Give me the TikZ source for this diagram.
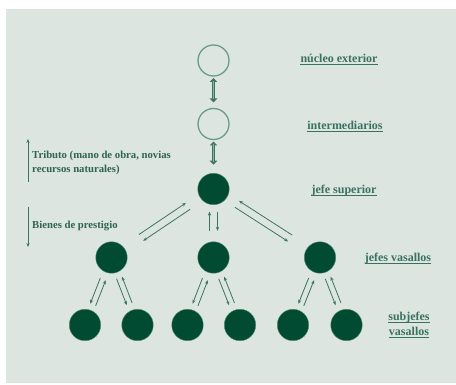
\documentclass[tikz,border=0pt]{standalone}
\usepackage{fontspec}
\setmainfont{Liberation Serif}
\usetikzlibrary{calc,arrows.meta}
\definecolor{bgc}{HTML}{DDE5E0}
\definecolor{darkg}{HTML}{004B32}
\definecolor{openc}{HTML}{6A9C8A}
\definecolor{labc}{HTML}{3A7262}
\definecolor{leftc}{HTML}{2F6450}
\definecolor{arrc}{HTML}{3D7462}
\definecolor{innerc}{HTML}{86B3A3}
\tikzset{
  dot/.style={circle,fill=darkg,draw=darkg!60!bgc,line width=0.4pt,minimum size=31.5pt,inner sep=0pt,outer sep=0pt},
  opendot/.style={circle,draw=openc,fill=bgc,line width=1.3pt,minimum size=31pt,inner sep=0pt,outer sep=0pt},
  lab/.style={text=labc,font=\bfseries\fontsize{12}{13}\selectfont,anchor=base,inner sep=0pt},
  ul/.style={draw=labc,line width=0.9pt},
  lefttxt/.style={text=leftc,font=\bfseries\fontsize{10.7}{14}\selectfont,anchor=base west,inner sep=0pt},
  arr/.style={draw=arrc,line width=0.8pt,-{Stealth[length=4pt,width=3.2pt]}},
  thickarr/.style={draw=arrc,line width=3pt,{Triangle[length=4pt,width=7.5pt]}-{Triangle[length=4pt,width=7.5pt]}},
  thickin/.style={draw=innerc,line width=0.7pt}
}
\newcommand\apair[7]{%
  \draw[arr] ($(#1)!#6!(#2)!#7!#3:(#2)$) -- ($(#1)!#5!(#2)!#7!#3:(#2)$);
  \draw[arr] ($(#1)!#5!(#2)!#7!#4:(#2)$) -- ($(#1)!#6!(#2)!#7!#4:(#2)$);
}
\newcommand\uline[1]{\draw[ul] ([yshift=-1.6pt]#1.base west) -- ([yshift=-1.6pt]#1.base east);}
\begin{document}
\begin{tikzpicture}[x=1pt,y=-1pt]
\useasboundingbox (0,0) rectangle (456,385);
\fill[white] (0,0) rectangle (456,385);
\fill[bgc] (6,9) rectangle (456,383);
% circles
\node[opendot] (nuc) at (213.5,60.5) {};
\node[opendot] (int) at (213.5,124) {};
\node[dot] (sup) at (213.5,189) {};
\node[dot] (v1) at (111.5,257.5) {};
\node[dot] (v2) at (213.5,257.5) {};
\node[dot] (v3) at (320,257.5) {};
\node[dot] (s1) at (85,325) {};
\node[dot] (s2) at (137.5,325) {};
\node[dot] (s3) at (187.5,325) {};
\node[dot] (s4) at (240,325) {};
\node[dot] (s5) at (293,325) {};
\node[dot] (s6) at (346.5,325) {};
% thick double arrows
\draw[thickarr,shorten <=2pt,shorten >=6pt] (nuc.south) -- (int.north);
\draw[thickin,shorten <=5pt,shorten >=9pt] (nuc.south) -- (int.north);
\draw[thickarr,shorten <=2pt,shorten >=8.5pt] (int.south) -- (sup.north);
\draw[thickin,shorten <=5pt,shorten >=11.5pt] (int.south) -- (sup.north);
% labels
\node[lab] (l1) at (339,63) {núcleo exterior};
\node[lab] (l2) at (345,130) {intermediarios};
\node[lab] (l3) at (344,194) {jefe superior};
\node[lab] (l4) at (398,262) {jefes vasallos};
\node[lab] (l5) at (409,321) {subjefes};
\node[lab] (l6) at (409,336) {vasallos};
\uline{l1}\uline{l2}\uline{l3}\uline{l4}\uline{l5}\uline{l6}
% left legend
\node[lefttxt] (t1) at (32,159) {Tributo (mano de obra, novias};
\node[lefttxt] (t2) at (32,173) {recursos naturales)};
\node[lefttxt] (t3) at (32,229) {Bienes de prestigio};
\coordinate (ua) at (28,182);
\coordinate (ub) at (28,139);
\coordinate (da) at (28,207);
\coordinate (db) at (28,247);
\draw[arr] (ua) -- (ub);
\draw[arr] (da) -- (db);
% arrow pairs: parent, child, up-angle, down-angle, from, to, offset
\apair{sup}{v1}{-90}{90}{0.25}{0.71}{3.8pt}
\apair{sup}{v2}{-90}{90}{0.33}{0.61}{4pt}
\apair{sup}{v3}{90}{-90}{0.22}{0.72}{3.8pt}
\apair{v1}{s1}{90}{-90}{0.32}{0.70}{2.9pt}
\apair{v1}{s2}{90}{-90}{0.30}{0.69}{2.9pt}
\apair{v2}{s3}{90}{-90}{0.32}{0.70}{2.9pt}
\apair{v2}{s4}{90}{-90}{0.30}{0.69}{2.9pt}
\apair{v3}{s5}{90}{-90}{0.32}{0.70}{2.9pt}
\apair{v3}{s6}{90}{-90}{0.30}{0.69}{2.9pt}
\end{tikzpicture}
\end{document}
